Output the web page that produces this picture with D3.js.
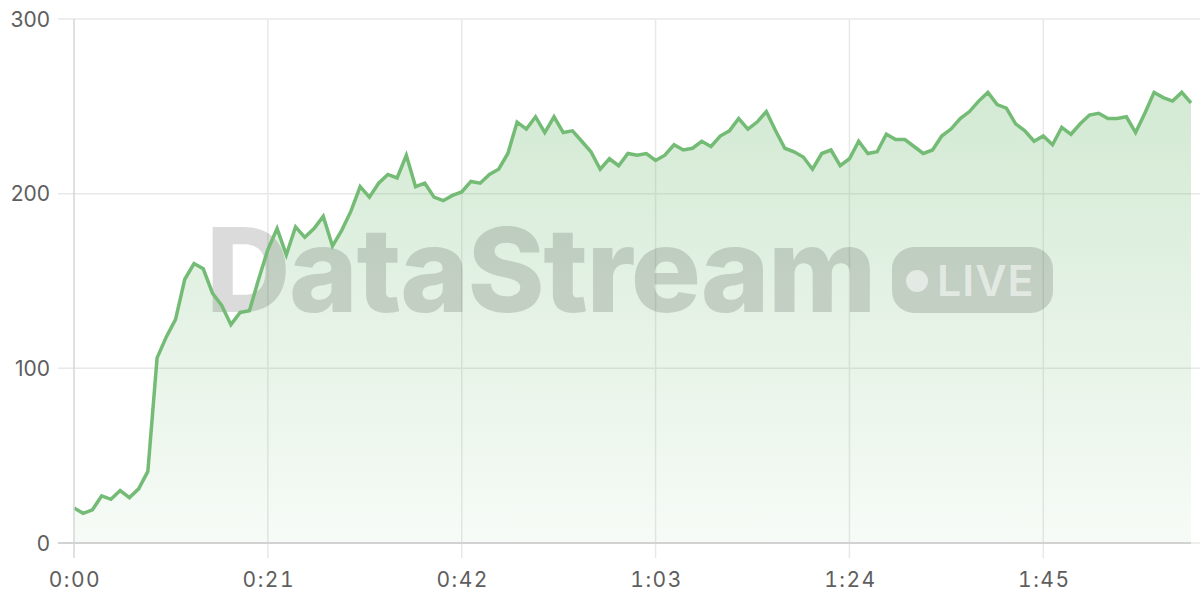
<!DOCTYPE html>
<html lang="en">
<head>
<meta charset="utf-8">
<title>DataStream live</title>
<script src="https://d3js.org/d3.v7.min.js"></script>
<style>
    body { margin: 0; background: #fff; }
    svg { display: block; }
</style>
</head>
<body>
<svg class="streamChart"></svg>
<script>
    // one reading per second, 0:00 .. 2:01
    const values = [
        20, 17, 19, 27, 25, 30, 26, 31, 41, 106,
        118, 128, 151, 160, 157, 143, 136, 125, 132, 133,
        151, 168, 180, 165, 181, 175, 180, 187, 170, 179,
        190, 204, 198, 206, 211, 209, 222, 204, 206, 198,
        196, 199, 201, 207, 206, 211, 214, 223, 241, 237,
        244, 235, 244, 235, 236, 230, 224, 214, 220, 216,
        223, 222, 223, 219, 222, 228, 225, 226, 230, 227,
        233, 236, 243, 237, 241, 247, 236, 226, 224, 221,
        214, 223, 225, 216, 220, 230, 223, 224, 234, 231,
        231, 227, 223, 225, 233, 237, 243, 247, 253, 258,
        251, 249, 240, 236, 230, 233, 228, 238, 234, 240,
        245, 246, 243, 243, 244, 235, 246, 258, 255, 253,
        258, 252
    ];
    const xTicks = [0, 21, 42, 63, 84, 105];
    const yTicks = [0, 100, 200, 300];

    const chartW = 1200, chartH = 600;
    const plotLeft = 74, plotRight = 1191, plotTop = 19, plotBottom = 543;
    const lineColor = "#74bc76";

    const svg = d3.select(".streamChart")
        .attr("width", chartW)
        .attr("height", chartH);

    const x = d3.scaleLinear()
        .domain([0, values.length - 1])
        .range([plotLeft, plotRight]);
    const y = d3.scaleLinear()
        .domain([0, 300])
        .range([plotBottom, plotTop]);

    const fmt = s => Math.floor(s / 60) + ":" + String(s % 60).padStart(2, "0");

    // gradient for the area
    const defs = svg.append("defs");
    const grad = defs.append("linearGradient")
        .attr("id", "areaFill")
        .attr("gradientUnits", "userSpaceOnUse")
        .attr("x1", 0).attr("x2", 0)
        .attr("y1", y(260)).attr("y2", y(0));
    grad.append("stop").attr("offset", 0).attr("stop-color", lineColor).attr("stop-opacity", 0.32);
    grad.append("stop").attr("offset", 1).attr("stop-color", lineColor).attr("stop-opacity", 0.06);

    // grid
    svg.append("g").selectAll("line")
        .data(yTicks)
        .join("line")
        .attr("x1", plotLeft - 16).attr("x2", chartW)
        .attr("y1", d => y(d)).attr("y2", d => y(d))
        .attr("stroke", "#e8e8e8")
        .attr("stroke-width", 1.5);
    svg.append("g").selectAll("line")
        .data(xTicks.slice(1))
        .join("line")
        .attr("x1", d => x(d)).attr("x2", d => x(d))
        .attr("y1", plotTop).attr("y2", plotBottom + 15)
        .attr("stroke", "#e8e8e8")
        .attr("stroke-width", 1.5);

    // area + watermark + line
    const area = d3.area()
        .x((d, i) => x(i))
        .y0(y(0))
        .y1(d => y(d));
    svg.append("path")
        .datum(values)
        .attr("d", area)
        .attr("fill", "url(#areaFill)");

    const wm = svg.append("g").attr("fill", "rgba(0,0,0,0.14)");
    wm.append("text")
        .attr("x", 206)
        .attr("y", 312)
        .attr("font-family", "Inter, 'Noto Sans', sans-serif")
        .attr("font-weight", 800)
        .attr("font-size", 117)
        .attr("letter-spacing", -1.5)
        .text("DataStream");
    wm.append("rect")
        .attr("x", 892).attr("y", 247)
        .attr("width", 161).attr("height", 66)
        .attr("rx", 22);
    const badge = svg.append("g").attr("fill", "rgba(255,255,255,0.55)");
    badge.append("circle")
        .attr("cx", 917).attr("cy", 281).attr("r", 11);
    badge.append("text")
        .attr("x", 937)
        .attr("y", 296)
        .attr("font-family", "Inter, 'Noto Sans', sans-serif")
        .attr("font-weight", 600)
        .attr("font-size", 43)
        .attr("letter-spacing", 1)
        .text("LIVE");

    const line = d3.line()
        .x((d, i) => x(i))
        .y(d => y(d));
    svg.append("path")
        .datum(values)
        .attr("d", line)
        .attr("fill", "none")
        .attr("stroke", lineColor)
        .attr("stroke-width", 3.5)
        .attr("stroke-linejoin", "miter");

    // axes lines
    svg.append("line")
        .attr("x1", plotLeft).attr("x2", plotLeft)
        .attr("y1", plotTop).attr("y2", plotBottom + 15)
        .attr("stroke", "#d6d6d6").attr("stroke-width", 1.5);
    svg.append("line")
        .attr("x1", plotLeft - 16).attr("x2", plotRight)
        .attr("y1", plotBottom).attr("y2", plotBottom)
        .attr("stroke", "#d2d2d2").attr("stroke-width", 2);

    // tick labels
    svg.append("g").selectAll("text")
        .data(yTicks)
        .join("text")
        .attr("x", 50)
        .attr("y", d => y(d))
        .attr("dy", "0.36em")
        .attr("text-anchor", "end")
        .attr("font-family", "Inter, 'Noto Sans', sans-serif")
        .attr("font-size", 21)
        .attr("fill", "#5e5e5e")
        .text(d => d);
    svg.append("g").selectAll("text")
        .data(xTicks)
        .join("text")
        .attr("x", d => x(d) + 1)
        .attr("y", 587)
        .attr("text-anchor", "middle")
        .attr("font-family", "Inter, 'Noto Sans', sans-serif")
        .attr("font-size", 21)
        .attr("letter-spacing", 1.5)
        .style("font-variant-numeric", "tabular-nums")
        .attr("fill", "#5e5e5e")
        .text(d => fmt(d));
</script>
</body>
</html>
